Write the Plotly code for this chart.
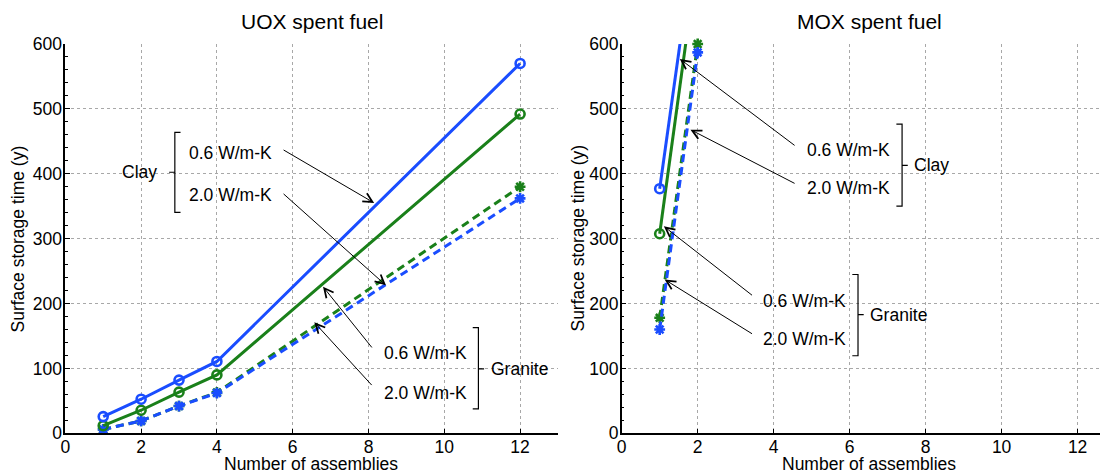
import plotly.graph_objects as go

# ---------------- data ----------------
x_uox = [1, 2, 3, 4, 12]
uox_clay_06 = [25.7, 52.5, 82, 110.7, 570]      # blue solid, circles
uox_clay_20 = [11.7, 35.5, 63.4, 90, 492]       # green solid, circles
uox_gran_06 = [6, 19, 42, 63, 380]              # green dashed, asterisks
uox_gran_20 = [6, 19, 42, 62, 362]              # blue dashed, asterisks

x_mox = [1, 2]
mox_clay_06 = [377, 795]
mox_clay_20 = [307.5, 735]
mox_gran_06 = [178, 600]
mox_gran_20 = [160, 587]

x_ticks = [0, 2, 4, 6, 8, 10, 12]
y_ticks = [0, 100, 200, 300, 400, 500, 600]

BLUE = "#1a4dff"
GREEN = "#1a801a"
FONT = "Liberation Sans"

fig = go.Figure()

def add_series(x, y, color, dashed, xa, ya):
    fig.add_trace(go.Scatter(
        x=x, y=y, mode="lines+markers", xaxis=xa, yaxis=ya, showlegend=False,
        cliponaxis=False,
        line=dict(color=color, width=3, dash="8px,5px" if dashed else "solid"),
        marker=dict(symbol="asterisk-open" if dashed else "circle-open", size=9,
                    color=color, line=dict(color=color, width=2.6)),
    ))

# UOX (left)
add_series(x_uox, uox_gran_06, GREEN, True, "x", "y")
add_series(x_uox, uox_gran_20, BLUE, True, "x", "y")
add_series(x_uox, uox_clay_20, GREEN, False, "x", "y")
add_series(x_uox, uox_clay_06, BLUE, False, "x", "y")
# MOX (right)
add_series(x_mox, mox_gran_06, GREEN, True, "x2", "y2")
add_series(x_mox, mox_gran_20, BLUE, True, "x2", "y2")
add_series(x_mox, mox_clay_20, GREEN, False, "x2", "y2")
add_series(x_mox, mox_clay_06, BLUE, False, "x2", "y2")

axis_common = dict(
    showline=True, linecolor="black", linewidth=1.5, mirror=False,
    ticks="inside", ticklen=5, tickcolor="black", tickwidth=1,
    showgrid=True, gridcolor="#a8a8a8", gridwidth=1, griddash="dot",
    zeroline=False, automargin=False,
    tickfont=dict(family=FONT, size=17.5, color="black"),
)

ydom = [0.0854, 0.9226]
fig.update_layout(
    width=1100, height=465,
    margin=dict(l=0, r=0, t=0, b=0),
    paper_bgcolor="white", plot_bgcolor="white",
    font=dict(family=FONT, color="black"),
    xaxis=dict(domain=[0.0521, 0.5], range=[0, 13], tickvals=x_ticks, anchor="y",
               ticklabelstandoff=-3, **axis_common),
    yaxis=dict(domain=ydom, range=[0, 600], tickvals=y_ticks, anchor="x",
               minor=dict(dtick=20, ticks="inside", ticklen=3, tickcolor="black", showgrid=False),
               ticklabelstandoff=-2, **axis_common),
    xaxis2=dict(domain=[0.5579, 1.0], range=[0, 12.8], tickvals=x_ticks, anchor="y2",
                ticklabelstandoff=-3, **axis_common),
    yaxis2=dict(domain=ydom, range=[0, 600], tickvals=y_ticks, anchor="x2",
                minor=dict(dtick=20, ticks="inside", ticklen=3, tickcolor="black", showgrid=False),
                ticklabelstandoff=-2, **axis_common),
)

ann = []
# titles and axis titles
for xc, t in [(0.2768, "UOX spent fuel"), (0.7833, "MOX spent fuel")]:
    ann.append(dict(xref="paper", yref="paper", x=xc, y=0.972, text=t, showarrow=False,
                    font=dict(size=21), xanchor="center", yanchor="middle"))
for xc in [0.2759, 0.7827]:
    ann.append(dict(xref="paper", yref="paper", x=xc, y=0.019, text="Number of assemblies",
                    showarrow=False, font=dict(size=17.5), xanchor="center", yanchor="middle"))
for xc in [0.00909, 0.5173]:
    ann.append(dict(xref="paper", yref="paper", x=xc, y=0.5043, text="Surface storage time (y)",
                    showarrow=False, font=dict(size=17.5), textangle=-90,
                    xanchor="center", yanchor="middle"))

def label(xr, yr, x, y, text, anchor="left"):
    ann.append(dict(xref=xr, yref=yr, x=x, y=y, text=text, showarrow=False,
                    font=dict(size=17.5), xanchor=anchor, yanchor="middle"))

def arrow(xr, yr, x0, y0, x1, y1):
    ann.append(dict(xref=xr, yref=yr, axref=xr, ayref=yr, ax=x0, ay=y0, x=x1, y=y1,
                    text="", showarrow=True, arrowhead=5, arrowsize=1.8, arrowwidth=1,
                    arrowcolor="black", standoff=0, startstandoff=0))

# left plot labels
label("x", "y", 2.47, 402, "Clay", "right")
label("x", "y", 3.21, 432, "0.6 W/m-K")
label("x", "y", 3.21, 367, "2.0 W/m-K")
arrow("x", "y", 5.72, 438, 8.15, 355)
arrow("x", "y", 5.72, 371, 8.46, 228)
label("x", "y", 8.36, 124, "0.6 W/m-K")
label("x", "y", 8.36, 62, "2.0 W/m-K")
label("x", "y", 11.18, 99.4, "Granite")
arrow("x", "y", 8.12, 130, 6.8, 226)
arrow("x", "y", 8.12, 72, 6.57, 171)

# right plot labels
label("x2", "y2", 4.82, 436, "0.6 W/m-K")
label("x2", "y2", 4.82, 378, "2.0 W/m-K")
label("x2", "y2", 7.64, 413, "Clay")
arrow("x2", "y2", 4.59, 442, 1.53, 577)
arrow("x2", "y2", 4.59, 384, 1.81, 468)
label("x2", "y2", 3.67, 204.5, "0.6 W/m-K")
label("x2", "y2", 3.67, 146, "2.0 W/m-K")
label("x2", "y2", 6.49, 183, "Granite")
arrow("x2", "y2", 3.47, 211, 1.11, 319)
arrow("x2", "y2", 3.47, 152, 1.13, 237)

fig.update_layout(annotations=ann)

# brackets
def bracket(xr, yr, x, y0, y1, ym, end_dir, tick_dir, w=0.15):
    path = (f"M {x + end_dir*w},{y1} L {x},{y1} L {x},{y0} L {x + end_dir*w},{y0} "
            f"M {x},{ym} L {x + tick_dir*w},{ym}")
    fig.add_shape(type="path", path=path, xref=xr, yref=yr,
                  line=dict(color="black", width=1.2))

bracket("x", "y", 2.89, 340.5, 463.8, 402.3, 1, -1)
bracket("x", "y", 10.9, 37.6, 162.8, 99.4, -1, 1)
bracket("x2", "y2", 7.38, 350, 476.5, 413, -1, 1)
bracket("x2", "y2", 6.22, 119.5, 244.7, 183, -1, 1)

fig.write_html("out.html")
